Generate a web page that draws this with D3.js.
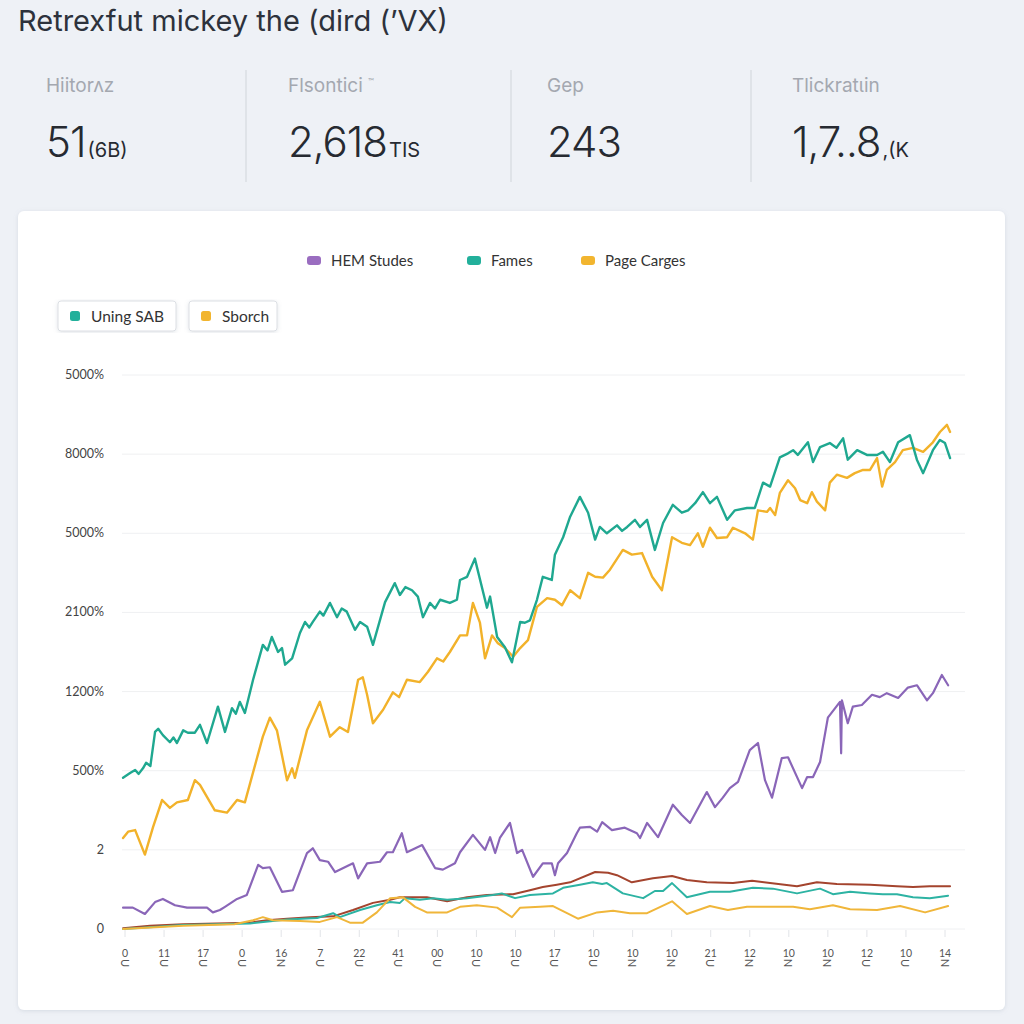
<!DOCTYPE html>
<html>
<head>
<meta charset="utf-8">
<script src="https://cdn.jsdelivr.net/npm/d3@7"></script>
<style>
  html, body { margin: 0; padding: 0; background: #eef1f6; }
  svg { display: block; }
</style>
</head>
<body>
<svg id="chart" width="1024" height="1024"></svg>
<script>
// ---------------- DATA ----------------
const title = "Retrexfut mickey the (dird (ʼVX)";

const kpiLabels = ["Hiitorʌz", "Flsontici", "Gep", "Tlickratɩin"];
const kpiValues = ["51", "2,618", "243", "1,7..8"];
const kpiSuffixes = ["(6B)", "TIS", "", ",(K"];

const legendTop = ["HEM Studes", "Fames", "Page Carges"];
const legendTopColors = ["#9a6dc0", "#22b09b", "#f2b52f"];
const legendBoxes = ["Uning SAB", "Sborch"];
const legendBoxColors = ["#22b09b", "#f2b52f"];

const yTickValues = [0, 100, 200, 300, 400, 500, 600, 700];
const yTickLabels = ["0", "2", "500%", "1200%", "2100%", "5000%", "8000%", "5000%"];

const xTickValues = d3.range(0, 211, 10);
const xTickTop = ["0","11","17","0","16","7","22","41","00","10","10","17","10","10","10","21","12","10","10","12","10","14"];
const xTickBottom = ["U","U","U","U","N","U","U","U","U","U","U","U","U","N","N","U","N","N","N","U","U","N"];

const tealMain = [[-0.5,191],[1.3,197],[2.6,201],[3.5,196],[4.6,203],[5.4,210],[6.5,206],[7.7,249],[8.5,253],[9.7,245],[11.5,236],[12.4,242],[13.3,235],[14.9,251],[16.1,248],[17.9,248],[19.2,258],[21,235],[23.8,281],[25.6,249],[27.4,279],[28.4,272],[29.4,287],[30.7,273],[32.8,315],[35.3,359],[36.5,352],[37.6,369],[39.2,350],[40.2,355],[41,334],[42.8,342],[44.8,374],[46.1,388],[47.2,381],[48.1,388],[49.9,401],[50.8,396],[52.5,412],[54.3,394],[55.5,405],[56.8,401],[58.9,378],[60.2,388],[62,382],[63.5,359],[66.6,413],[69.1,437],[70.4,422],[71.8,432],[73.5,428],[75,420],[76.3,394],[78.1,412],[79.4,405],[80.7,416],[83.2,412],[85,416],[85.8,441],[87.6,445],[89.6,468],[92.7,406],[93.5,420],[95.3,369],[97.3,356],[99.1,337],[101.2,388],[102.4,387],[103.7,390],[105.5,416],[107,445],[109.3,441],[110.1,473],[112.2,495],[114,521],[116.5,546],[118.6,526],[120.4,492],[121.6,508],[123.4,500],[126,510],[127.3,503],[128.6,508],[130.6,517],[131.9,508],[133.7,517],[135.7,479],[137.8,513],[140.3,536],[142.6,526],[144.2,529],[146,538],[148,552],[149.8,538],[151.6,546],[154.2,517],[156.2,529],[159.3,532],[161.3,532],[163.4,564],[165.2,559],[167.7,596],[169.8,601],[171.1,605],[172.3,599],[174.9,615],[176.2,590],[178,609],[180.5,614],[182.2,608],[183.9,620],[185.1,593],[187.5,605],[190,599],[192.6,599],[194.1,603],[195.9,590],[198,615],[201,624],[202.8,593],[204.4,576],[206.9,605],[208.7,618],[210,614],[211.3,595]];

const yellowMain = [[-0.5,115],[0.8,123],[2.6,125],[5.1,94],[7.2,129],[9.5,163],[11.5,153],[13.3,160],[16.1,163],[17.9,188],[19.2,182],[23,150],[26.1,147],[28.7,163],[30.7,160],[35.3,243],[37.1,267],[38.9,251],[41.5,188],[42.8,203],[43.5,191],[46.6,251],[49.9,287],[52.5,243],[55,255],[57.1,249],[59.7,315],[60.9,318],[62,296],[63.5,260],[66.1,277],[68.6,299],[70.2,293],[72.2,315],[75.5,312],[77.6,325],[79.9,342],[81.5,338],[83.2,350],[85.8,371],[87.6,371],[89.1,412],[90.9,387],[92.2,342],[94,371],[95.5,361],[97.3,355],[99.4,344],[101.2,355],[103.2,365],[105.5,407],[108.1,418],[110.1,416],[111.9,409],[114,428],[116.5,418],[118.6,450],[120.4,445],[122.4,444],[124.2,454],[127.5,479],[129.8,473],[132.4,475],[135,445],[137.5,428],[140.1,495],[142.6,488],[144.7,485],[146.7,500],[148,483],[149.8,507],[151.6,494],[154.2,495],[155.7,507],[158.8,500],[160.8,492],[162.1,529],[164.4,527],[165.2,532],[166.5,523],[167.7,551],[169.8,567],[171.6,557],[172.9,542],[174.7,538],[175.9,552],[177.2,540],[179.3,529],[180.5,564],[182.3,574],[184.9,570],[186.9,576],[189,580],[190.8,580],[192.6,595],[193.9,559],[195.1,580],[197.2,590],[199.2,605],[201.8,608],[204.4,603],[206.9,615],[208.7,628],[210.5,637],[211.3,628]];

const purpleLine = [[-0.5,27],[2,27],[5.1,19],[7.7,34],[9.7,38],[12.8,30],[15.9,27],[21,27],[22.5,21],[24.3,24],[25.6,28],[28.7,38],[31.2,43],[34.1,81],[35.3,77],[37.1,78],[40.2,47],[43,49],[46.6,96],[48.1,102],[49.9,87],[52,85],[53.8,72],[58.4,83],[59.7,64],[62,83],[65.3,85],[67.1,97],[68.6,97],[70.9,121],[72.2,97],[76.1,106],[79.4,77],[81.4,75],[84.5,83],[85.8,97],[89.1,119],[92.2,100],[93.5,116],[94.8,96],[96,115],[98.6,134],[100.4,96],[101.7,100],[104.5,66],[107,83],[109.3,83],[110.1,68],[110.9,83],[113.2,96],[115.7,121],[116.5,128],[119.1,129],[120.9,123],[122.2,135],[124.7,125],[128,128],[131.1,121],[131.9,115],[133.7,134],[136.5,116],[140.3,157],[142.6,144],[144.7,134],[149,173],[151.1,154],[153.1,166],[154.9,178],[157,186],[160,226],[162.1,235],[163.9,188],[165.7,166],[168.2,216],[169.8,217],[173.4,178],[174.7,192],[176.2,192],[178,211],[180,267],[183.1,287],[183.4,222],[183.6,289],[185.1,260],[186.4,281],[188.7,283],[191.3,296],[193.3,293],[195.1,298],[198,292],[200.5,305],[202.8,308],[205.4,289],[206.9,298],[209.2,321],[210.8,308]];

const brownLine = [[-0.5,1],[6.4,4],[14.9,6],[32,8],[36.4,11],[41.5,13],[47.4,15],[53.3,16],[58.4,24],[63.5,33],[67.9,37],[70.4,40],[77.3,40],[82.5,35],[87.6,40],[92.7,43],[99.4,44],[103.7,49],[107,53],[110.6,56],[114,59],[120.4,72],[123.7,71],[126,68],[129.8,59],[135.2,64],[140.1,67],[143.9,62],[149,59],[155.7,58],[160.6,61],[165.2,58],[172.1,54],[177.2,59],[182.3,57],[190.8,56],[197.7,54],[201.8,53],[206.1,54],[211.3,54]];

const tealLow = [[-0.5,0],[14.9,5],[32,7],[41.5,12],[49.2,14],[53.3,20],[55,15],[60.2,24],[64.5,30],[67.9,34],[70.4,33],[71.7,39],[75.5,37],[78.9,39],[82.5,37],[87.6,39],[94.2,43],[96.5,45],[99.9,39],[103.7,43],[109.6,45],[112.2,52],[116.5,56],[119.8,59],[122.2,57],[123.4,58],[127.5,45],[132.7,39],[135.7,48],[137.8,48],[140.1,58],[143.9,40],[149.8,47],[154.9,47],[160.8,52],[165.9,51],[172.1,45],[178,51],[181.3,44],[185.7,47],[190.8,45],[194.1,44],[197.7,44],[201.8,40],[206.1,39],[210.8,42]];

const yellowLow = [[-0.5,0],[14.9,4],[28,6],[32.8,11],[35.3,15],[37.9,11],[44.8,10],[49.9,9],[54.3,15],[57.6,8],[60.9,8],[64.5,21],[67.9,39],[71.2,40],[74.3,28],[77.3,21],[82.5,21],[85.8,28],[90.1,30],[95.3,27],[99.1,15],[101.2,27],[106.3,28],[109.6,29],[113.2,20],[116,13],[120.9,21],[125,23],[129.3,20],[133.7,20],[140.1,35],[143.9,19],[149.8,29],[154.4,24],[159.3,28],[165.9,28],[171.1,28],[175.4,25],[181.3,30],[185.7,25],[192.6,24],[198.5,29],[204.9,21],[210.8,29]];

const series = [
  { data: brownLine,  color: "#a4442e", width: 2 },
  { data: tealLow,    color: "#2db3a3", width: 2 },
  { data: yellowLow,  color: "#f0b63a", width: 2 },
  { data: purpleLine, color: "#8a66b8", width: 2.2 },
  { data: yellowMain, color: "#f2b22a", width: 2.4 },
  { data: tealMain,   color: "#1fa890", width: 2.4 }
];

// ---------------- DRAW ----------------
const svg = d3.select("#chart");
const FONT = "Lato, 'Open Sans', sans-serif";
const KFONT = "Inter, 'Noto Sans', sans-serif";

const defs = svg.append("defs");
const f = defs.append("filter").attr("id", "shadow").attr("x", "-5%").attr("y", "-5%").attr("width", "110%").attr("height", "110%");
f.append("feDropShadow").attr("dx", 0).attr("dy", 1).attr("stdDeviation", 2).attr("flood-color", "#8894a8").attr("flood-opacity", 0.25);

svg.append("rect").attr("width", 1024).attr("height", 1024).attr("fill", "#eef1f6");

svg.append("text").attr("x", 18).attr("y", 31)
  .attr("font-family", KFONT).attr("font-size", 29)
  .attr("fill", "#2d323c").text(title);

// KPI row
const kpiX = [46, 288, 547, 792];
const dividerX = [246, 511, 751];
svg.selectAll("line.div").data(dividerX).enter().append("line")
  .attr("x1", d => d).attr("x2", d => d).attr("y1", 70).attr("y2", 182)
  .attr("stroke", "#d6dae0").attr("stroke-width", 1.2);

kpiLabels.forEach((lab, i) => {
  svg.append("text").attr("x", kpiX[i]).attr("y", 92)
    .attr("font-family", KFONT).attr("font-size", 19)
    .attr("fill", "#a4a8b0").text(lab);
  const t = svg.append("text").attr("x", kpiX[i]).attr("y", 157)
    .attr("font-family", KFONT).attr("fill", "#262a31");
  t.append("tspan").attr("font-size", 42).attr("font-weight", 300).attr("letter-spacing", -1).text(kpiValues[i]);
  if (kpiSuffixes[i]) t.append("tspan").attr("font-size", 20).attr("dx", 2).text(kpiSuffixes[i]);
});
svg.append("text").attr("x", 368).attr("y", 84).attr("font-family", FONT)
  .attr("font-size", 8).attr("fill", "#a4a8b0").text("™");

// Card
svg.append("rect").attr("x", 18).attr("y", 211).attr("width", 987).attr("height", 799)
  .attr("rx", 6).attr("fill", "#ffffff").attr("filter", "url(#shadow)");

// Legend top
const legX = [307, 467, 581];
legendTop.forEach((name, i) => {
  svg.append("rect").attr("x", legX[i]).attr("y", 256).attr("width", 14).attr("height", 9).attr("rx", 3)
    .attr("fill", legendTopColors[i]);
  svg.append("text").attr("x", legX[i] + 24).attr("y", 265.5).attr("font-family", FONT)
    .attr("font-size", 15).attr("fill", "#333").text(name);
});

// Legend boxes
const boxX = [58, 189], boxW = [118, 88];
legendBoxes.forEach((name, i) => {
  svg.append("rect").attr("x", boxX[i]).attr("y", 301).attr("width", boxW[i]).attr("height", 30).attr("rx", 3)
    .attr("fill", "#fff").attr("stroke", "#dcdfe4").attr("filter", "url(#shadow)");
  svg.append("rect").attr("x", boxX[i] + 12).attr("y", 311).attr("width", 10).attr("height", 10).attr("rx", 2.5)
    .attr("fill", legendBoxColors[i]);
  svg.append("text").attr("x", boxX[i] + 33).attr("y", 321.5).attr("font-family", FONT)
    .attr("font-size", 15.5).attr("fill", "#333").text(name);
});

// Scales
const x = d3.scaleLinear().domain([0, 210]).range([125, 945]);
const y = d3.scaleLinear().domain([0, 700]).range([929, 375]);

// Grid
svg.append("g").selectAll("line").data(yTickValues).enter().append("line")
  .attr("x1", 122).attr("x2", 965).attr("y1", d => y(d)).attr("y2", d => y(d))
  .attr("stroke", "#eff0f2").attr("stroke-width", 1);

// Y labels
svg.append("g").selectAll("text").data(yTickValues).enter().append("text")
  .attr("x", 104).attr("y", d => y(d) + 4).attr("text-anchor", "end")
  .attr("font-family", FONT).attr("font-size", 12.5).attr("fill", "#444")
  .text((d, i) => yTickLabels[i]);

// X ticks
const xg = svg.append("g");
xg.selectAll("line").data(xTickValues).enter().append("line")
  .attr("x1", d => x(d)).attr("x2", d => x(d)).attr("y1", 930).attr("y2", 937)
  .attr("stroke", "#e2e4e8");
xg.selectAll("text.top").data(xTickValues).enter().append("text")
  .attr("x", d => x(d)).attr("y", 957).attr("text-anchor", "middle")
  .attr("font-family", FONT).attr("font-size", 10.5).attr("fill", "#555")
  .text((d, i) => xTickTop[i]);
xg.selectAll("text.bot").data(xTickValues).enter().append("text")
  .attr("transform", d => `translate(${x(d)},963) rotate(90)`)
  .attr("text-anchor", "middle").attr("dominant-baseline", "central")
  .attr("font-family", FONT).attr("font-size", 11).attr("fill", "#555")
  .text((d, i) => xTickBottom[i]);

// Lines
const line = d3.line().x(d => x(d[0])).y(d => y(d[1])).curve(d3.curveLinear);
svg.append("g").selectAll("path").data(series).enter().append("path")
  .attr("d", d => line(d.data)).attr("fill", "none")
  .attr("stroke", d => d.color).attr("stroke-width", d => d.width)
  .attr("stroke-linejoin", "round").attr("stroke-linecap", "round");
</script>
</body>
</html>
